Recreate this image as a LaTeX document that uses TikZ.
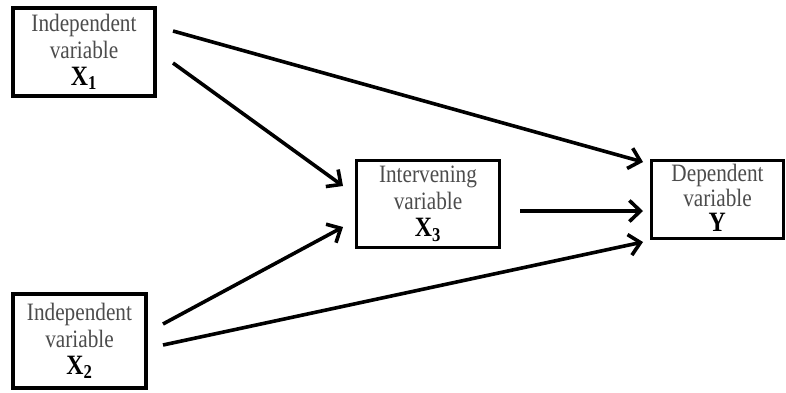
\documentclass[tikz,border=0pt]{standalone}
\usepackage{fontspec}
\setmainfont{Liberation Serif}[FakeStretch=0.85]
\usetikzlibrary{arrows.meta}
\definecolor{txtgray}{gray}{0.3}
\tikzset{
  varbox/.style={draw,line width=3pt,inner sep=0pt,align=center,text=txtgray,font=\fontsize{25}{27}\selectfont},
  thickbox/.style={varbox,line width=4pt},
  arr/.style={line width=3.6pt,-{Straight Barb[length=11pt,width=21pt,line width=3.6pt]}},
}
\newcommand{\varsym}[2]{{\color{black}\fontsize{28}{27}\selectfont\bfseries #1\textsubscript{#2}}}

\begin{document}
\begin{tikzpicture}[x=1pt,y=1pt]
  \useasboundingbox (0,0) rectangle (786,392);
  \node[thickbox,minimum width=142pt,minimum height=88pt] (x1) at (84,340) {Independent\\variable\\\varsym{X}{1}};
  \node[thickbox,minimum width=133pt,minimum height=94pt] (x2) at (79.5,51) {Independent\\variable\\\varsym{X}{2}};
  \node[varbox,minimum width=143pt,minimum height=87pt] (x3) at (428,188) {Intervening\\variable\\\varsym{X}{3}};
  \node[varbox,minimum width=132pt,minimum height=78pt,font=\fontsize{25}{25}\selectfont] (y) at (717.5,192.5) {Dependent\\variable\\\varsym{Y}{}};
  \draw[arr] ([shift={(16,21)}]x1.east) -- ([shift={(-7,37.5)}]y.west);
  \draw[arr] ([shift={(16,-11)}]x1.east) -- ([shift={(-12,18)}]x3.west);
  \draw[arr] ([shift={(19,-7)}]x3.east) -- ([shift={(-7,-11.5)}]y.west);
  \draw[arr] ([shift={(15,17)}]x2.east) -- ([shift={(-12,-23)}]x3.west);
  \draw[arr] ([shift={(15,-4)}]x2.east) -- ([shift={(-7,-42.5)}]y.west);
\end{tikzpicture}
\end{document}
